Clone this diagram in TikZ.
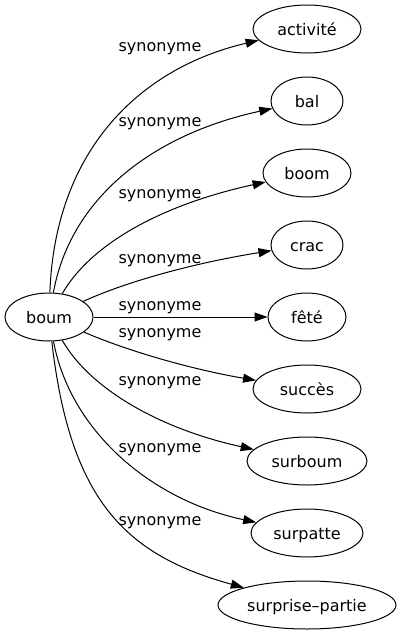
\documentclass[tikz,border=0pt]{standalone}
\usepackage{fontspec}
\setmainfont{DejaVu Sans}
\usetikzlibrary{shapes.geometric,arrows.meta}
\begin{document}
\begin{tikzpicture}[x=1pt,y=-1pt,
  every node/.style={font=\fontsize{16}{19}\selectfont},
  term/.style={ellipse,draw,line width=1pt,inner sep=0pt,minimum height=48pt,text height=12pt,text depth=0pt},
  lab/.style={inner sep=0pt,text height=9pt,text depth=0pt},
  conn/.style={line width=1pt,-{Triangle[length=13pt,width=9pt]}}]
\useasboundingbox (0,0) rectangle (402,635);
\node[term,minimum width=88pt]  (boum)     at (49,317)  {boum};
\node[term,minimum width=108pt] (activite) at (307,29)  {activité};
\node[term,minimum width=72pt]  (bal)      at (307,101) {bal};
\node[term,minimum width=88pt]  (boom)     at (307,173) {boom};
\node[term,minimum width=72pt]  (crac)     at (307,245) {crac};
\node[term,minimum width=78pt]  (fete)     at (307,317) {fêté};
\node[term,minimum width=108pt] (succes)   at (307,389) {succès};
\node[term,minimum width=120pt] (surboum)  at (307,461) {surboum};
\node[term,minimum width=112pt] (surpatte) at (307,533) {surpatte};
\node[term,minimum width=178pt] (surprise) at (307,605) {surprise–partie};

\draw[conn] (boum) .. controls (55,150) and (140,68) .. (activite);
\draw[conn] (boum) .. controls (70,200) and (150,135) .. (bal);
\draw[conn] (boum) .. controls (90,245) and (160,205) .. (boom);
\draw[conn] (boum) .. controls (130,280) and (200,262) .. (crac);
\draw[conn] (boum) -- (fete);
\draw[conn] (boum) .. controls (130,352) and (195,370) .. (succes);
\draw[conn] (boum) .. controls (90,389) and (160,429) .. (surboum);
\draw[conn] (boum) .. controls (70,430) and (150,500) .. (surpatte);
\draw[conn] (boum) .. controls (70,500) and (125,555) .. (surprise);

\node[lab] (l1) at (160,47)  {synonyme};
\node[lab] (l2) at (160,122) {synonyme};
\node[lab] (l3) at (160,194) {synonyme};
\node[lab] (l4) at (160,259) {synonyme};
\node[lab] (l5) at (160,306) {synonyme};
\node[lab] (l6) at (160,333) {synonyme};
\node[lab] (l7) at (160,381) {synonyme};
\node[lab] (l8) at (160,448) {synonyme};
\node[lab] (l9) at (160,521) {synonyme};
\end{tikzpicture}
\end{document}
